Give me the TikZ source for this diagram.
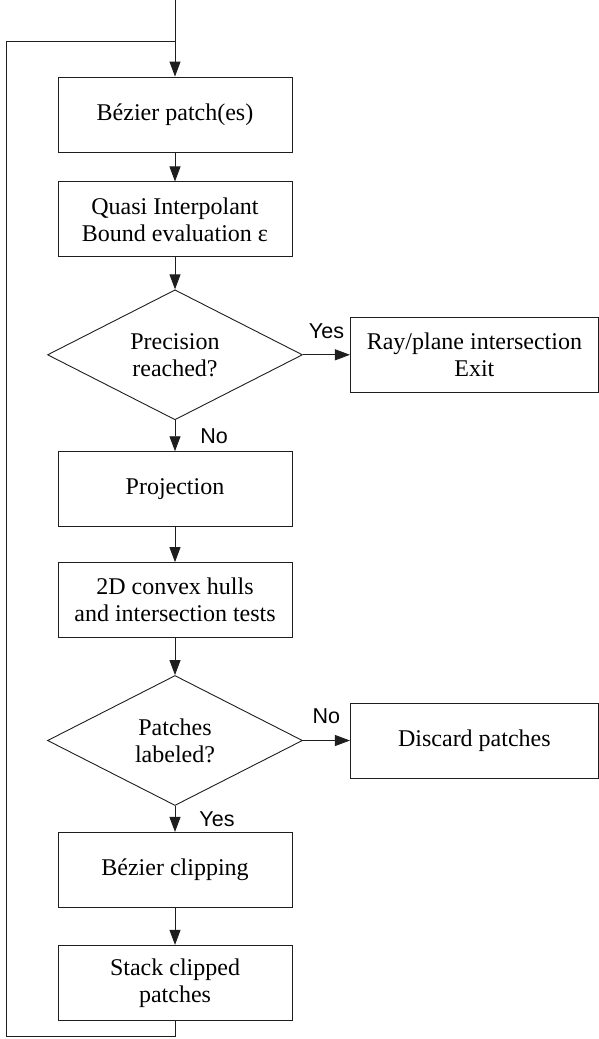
\documentclass[tikz,border=0pt]{standalone}
\usepackage{fontspec}
\setmainfont{Liberation Serif}
\newfontfamily\labelfont{Liberation Sans}
\usepackage{tikz}
\usetikzlibrary{arrows.meta,positioning,shapes.geometric}
\definecolor{contour}{RGB}{30,30,30}
\tikzset{
  procbox/.style={rectangle, draw=contour, line width=0.9pt, minimum width=234pt,
                  minimum height=75pt, align=center, inner sep=0pt,
                  font=\fontsize{24}{27}\selectfont},
  sidebox/.style={procbox, minimum width=248pt},
  decision/.style={diamond, draw=contour, line width=0.9pt, minimum width=255pt,
                   minimum height=130pt, aspect=1.96, align=center, inner sep=0pt,
                   font=\fontsize{24}{27}\selectfont},
  arr/.style={-{Triangle[length=15pt,width=11pt]}, line width=0.9pt, draw=contour},
  lien/.style={line width=0.9pt, draw=contour},
  rep/.style={inner sep=0pt, font=\labelfont\fontsize{21.5}{24}\selectfont},
}

\begin{document}
\begin{tikzpicture}[x=1pt, y=-1pt]
     \useasboundingbox (0,0) rectangle (598,1039);
     \coordinate (entree) at (175,0);
     \coordinate (retour) at (175,41);
     \coordinate (coin) at (6,1036);
     \node[procbox] (patch) at (175,114.5) {Bézier patch(es)};
     \node[procbox, below=29pt of patch] (quasi) {Quasi Interpolant\\Bound evaluation ε};
     \node[decision, below=32pt of quasi] (prec) {Precision\\reached?};
     \node[sidebox, right=47pt of prec] (exit) {Ray/plane intersection\\Exit};
     \node[procbox, below=31pt of prec] (proj) {Projection};
     \node[procbox, below=35pt of proj] (hull) {2D convex hulls\\and intersection tests};
     \node[decision, below=37pt of hull] (label) {Patches\\labeled?};
     \node[sidebox, right=47pt of label] (discard) {Discard patches};
     \node[procbox, below=26pt of label] (clip) {Bézier clipping};
     \node[procbox, below=37pt of clip] (stack) {Stack clipped\\patches};
     % connecteurs
     \draw[arr](entree)--(patch); \draw[arr](patch)--(quasi); \draw[arr](quasi)--(prec);
     \draw[arr](prec)-- node[rep, above=16pt]{Yes} (exit);
     \draw[arr](prec)-- node[rep, right=25pt]{No} (proj);
     \draw[arr](proj)--(hull); \draw[arr](hull)--(label);
     \draw[arr](label)-- node[rep, above=16pt]{No} (discard);
     \draw[arr](label)-- node[rep, right=24pt]{Yes} (clip);
     \draw[arr](clip)--(stack);
     \draw[lien](stack.south) |- (coin) |- (retour);
   \end{tikzpicture}
\end{document}
